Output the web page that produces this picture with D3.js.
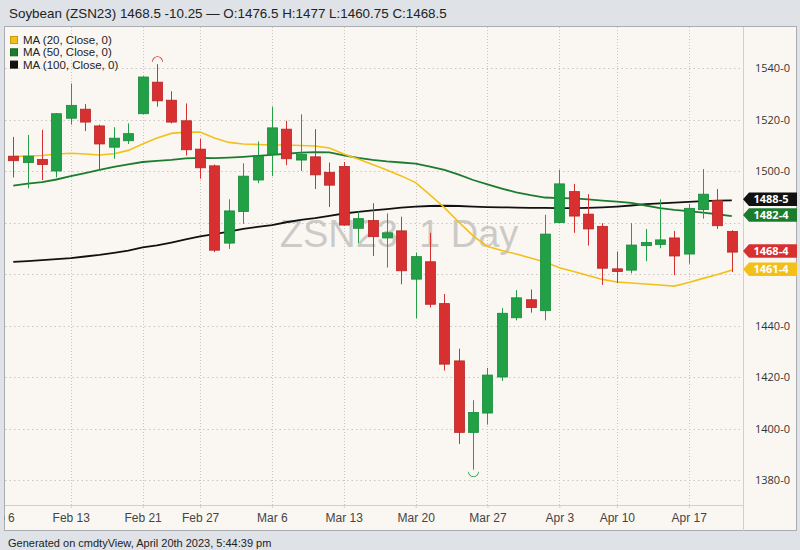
<!DOCTYPE html>
<html><head><meta charset="utf-8">
<script src="https://cdn.jsdelivr.net/npm/d3@7/dist/d3.min.js"></script>
<style>
html,body{margin:0;padding:0;background:#dfe2e6;}
svg{display:block;}
</style></head>
<body>
<svg id="chart" width="800" height="550"></svg>
<script>
// ---- data ----
const days = ["Feb 6","Feb 7","Feb 8","Feb 9","Feb 10","Feb 13","Feb 14","Feb 15","Feb 16","Feb 17",
  "Feb 21","Feb 22","Feb 23","Feb 24","Feb 27","Feb 28","Mar 1","Mar 2","Mar 3","Mar 6","Mar 7","Mar 8",
  "Mar 9","Mar 10","Mar 13","Mar 14","Mar 15","Mar 16","Mar 17","Mar 20","Mar 21","Mar 22","Mar 23",
  "Mar 24","Mar 27","Mar 28","Mar 29","Mar 30","Mar 31","Apr 3","Apr 4","Apr 5","Apr 6","Apr 10",
  "Apr 11","Apr 12","Apr 13","Apr 14","Apr 17","Apr 18","Apr 19","Apr 20"];
const open  = [1505.75,1503.25,1504.5,1500,1520.5,1524,1517.5,1509.25,1511.75,1522.25,1534.5,1527.5,1519.5,1508.5,1502,1472,1484.25,1496.5,1506.5,1516.25,1504.25,1505.5,1499.5,1501.75,1477.75,1480.75,1474,1476.75,1458,1464.75,1448.5,1426.25,1398.5,1406,1420,1443,1450,1445.75,1480,1492,1483.25,1478.5,1462,1461.5,1471,1471.5,1474,1467.75,1485,1488.5,1476.5];
const high  = [1513.25,1514,1516,1522.5,1534,1526,1518,1517,1518.5,1536.75,1541.5,1531,1526.25,1512.5,1502.5,1489,1503,1511.5,1525,1519.5,1522,1516.25,1503.25,1503.5,1484.25,1487.5,1483.5,1482.25,1468.25,1476,1452.25,1431,1411,1423.5,1446.75,1453.75,1454,1483,1500.5,1495,1491,1479.75,1468.75,1479.75,1477.5,1489,1476.75,1487.25,1500.75,1493,1477];
const low   = [1497.5,1493.25,1496.5,1497.5,1518,1515.5,1500.5,1504.75,1510.5,1522,1525,1518.5,1506,1497,1468.5,1469.75,1479.5,1495.25,1498,1502.25,1500,1493,1486,1478.75,1472,1467,1462.5,1456,1442.75,1447,1422.5,1394,1384,1401.5,1418.5,1442,1445,1442,1479.75,1476,1471,1455.75,1456.5,1460.25,1465,1470,1459.5,1464,1481.5,1477.5,1460.75];
const close = [1504,1505.75,1502.5,1522.25,1525.5,1519,1510.5,1512.75,1514.5,1536.5,1527.25,1519,1508.25,1501.25,1469.25,1484.5,1498,1505.75,1516.75,1504.75,1506.5,1498.5,1494.5,1479,1481.5,1474.5,1476,1461.25,1466.75,1448.25,1425,1398.5,1406.25,1420.75,1444.75,1450.75,1447,1475.5,1495,1482.5,1477.5,1462.25,1461,1471.25,1472.25,1473.25,1467,1485.5,1491,1478.75,1468.5];
const ma20  = [1505.6,1505.8,1506.0,1506.6,1506.9,1506.6,1506.2,1506.7,1508.0,1510.5,1512.8,1514.6,1515.1,1515.1,1512.8,1511.1,1510.5,1510.3,1510.1,1510.1,1509.9,1509.7,1508.9,1506.6,1504.7,1502.5,1500.4,1498.1,1495.5,1490.7,1485.8,1480.2,1474.8,1470.7,1469.1,1467.8,1466.2,1464.7,1462.4,1461.0,1459.4,1457.9,1456.9,1456.5,1456.1,1455.7,1455.3,1456.7,1458.3,1459.8,1461.5];
const ma50  = [1494.3,1495.1,1495.7,1496.7,1498.0,1499.2,1500.4,1501.6,1502.6,1503.5,1503.9,1504.3,1504.9,1505.1,1505.0,1505.2,1505.5,1505.9,1506.3,1506.7,1507.1,1507.3,1507.2,1506.1,1505.1,1504.3,1503.7,1503.3,1502.9,1501.7,1500.4,1498.6,1496.5,1494.8,1493.2,1491.7,1490.6,1489.7,1489.5,1489.4,1489.0,1488.5,1488.1,1487.6,1486.6,1485.6,1484.9,1484.4,1483.8,1483.2,1482.5];
const ma100 = [1464.7,1465.0,1465.4,1465.8,1466.2,1466.8,1467.4,1468.2,1469.1,1470.3,1471.1,1472.2,1473.4,1474.6,1475.5,1476.5,1477.5,1478.3,1479.0,1480.1,1481.0,1481.7,1482.6,1483.5,1484.1,1484.7,1485.2,1485.8,1486.2,1486.4,1486.5,1486.4,1486.2,1486.0,1485.9,1485.8,1485.7,1485.7,1485.6,1485.6,1485.7,1485.9,1486.2,1486.6,1487.1,1487.4,1487.7,1488.0,1488.3,1488.5,1488.625];
const tickLabels = ["Feb 6","Feb 13","Feb 21","Feb 27","Mar 6","Mar 13","Mar 20","Mar 27","Apr 3","Apr 10","Apr 17"];
const priceTicks = [1380,1400,1420,1440,1460,1480,1500,1520,1540];
const maNames = ["MA (20, Close, 0)","MA (50, Close, 0)","MA (100, Close, 0)"];
const titleText = "Soybean (ZSN23) 1468.5 -10.25 \u2014 O:1476.5 H:1477 L:1460.75 C:1468.5";
const watermark = "ZSN23, 1 Day";
const footerText = "Generated on cmdtyView, April 20th 2023, 5:44:39 pm";

// ---- layout ----
const svg = d3.select("#chart");
const P = {left:5, right:743, top:27, bottom:505};
const panel = {x:4, y:26, w:793, h:505};
const C = {green:"#21a046", greenEdge:"#178a3a", red:"#d83030", redEdge:"#b62626",
  ma20:"#f3c01a", ma50:"#1c7c2e", ma100:"#111111"};

const x = d3.scaleLinear().domain([0, days.length-1]).range([-1.1, 731.8]);
const y = d3.scaleLinear().domain([1380, 1540]).range([480, 68]);
const xi = i => x(i+1);
const fmt = v => { const w = Math.floor(v + 1e-9); const e = Math.round((v - w) * 8); return w + "-" + e; };

svg.append("rect").attr("width",800).attr("height",550).attr("fill","#dfe2e6");
const clip = svg.append("clipPath").attr("id","pclip").append("rect")
  .attr("x",panel.x).attr("y",panel.y).attr("width",panel.w).attr("height",panel.h);
svg.append("rect").attr("x",panel.x+0.5).attr("y",panel.y+0.5).attr("width",panel.w-1).attr("height",panel.h-1)
  .attr("fill","#faf7f2").attr("stroke","#a9adb2");
svg.append("text").attr("x",9).attr("y",18).attr("font-family","Liberation Sans, Arial, sans-serif")
  .attr("font-size",13.4).attr("fill","#222").text(titleText);
svg.append("text").attr("x",8).attr("y",547).attr("font-family","Liberation Sans Narrow, Arial Narrow, sans-serif")
  .attr("font-size",11).attr("fill","#222").text(footerText);

// grid
const g = svg.append("g");
g.selectAll(".hg").data(priceTicks).join("line")
  .attr("x1",P.left).attr("x2",P.right).attr("y1",d=>Math.round(y(d))+0.5).attr("y2",d=>Math.round(y(d))+0.5)
  .attr("stroke","#c9c6c0").attr("stroke-dasharray","1.5,3");
g.selectAll(".vg").data(tickLabels).join("line")
  .attr("x1",d=>Math.round(x(days.indexOf(d)))+0.5).attr("x2",d=>Math.round(x(days.indexOf(d)))+0.5)
  .attr("y1",P.top).attr("y2",P.bottom)
  .attr("stroke","#c9c6c0").attr("stroke-dasharray","1,2");

svg.append("line").attr("x1",P.right+0.5).attr("x2",P.right+0.5).attr("y1",P.top).attr("y2",panel.y+panel.h)
  .attr("stroke","#cfcfcf");
svg.append("line").attr("x1",P.left).attr("x2",P.right).attr("y1",P.bottom+0.5).attr("y2",P.bottom+0.5)
  .attr("stroke","#cfcfcf");

// watermark
svg.append("text").attr("x",399).attr("y",247).attr("text-anchor","middle")
  .attr("font-family","Liberation Sans, Arial, sans-serif").attr("font-size",38)
  .attr("fill","#bdbbb8").attr("fill-opacity",0.75).text(watermark);

// x axis (clipped to panel, first label runs off the left edge as in the source)
const xa = svg.append("g").attr("clip-path","url(#pclip)").append("g").attr("transform",`translate(0,${P.bottom})`)
  .call(d3.axisBottom(x).tickValues(tickLabels.map(d=>days.indexOf(d))).tickFormat(i=>days[i]).tickSize(3).tickPadding(5));
xa.select(".domain").remove();
xa.selectAll("line").attr("stroke","#cfcfcf");
xa.selectAll("text").attr("font-family","Liberation Sans Narrow, Arial Narrow, sans-serif").attr("font-size",12).attr("fill","#444");

// value tags data
const last = open.length-1;
const tags = [
  {v:ma100[last], col:C.ma100},
  {v:ma50[last], col:C.ma50},
  {v:close[last], col:C.red},
  {v:ma20[last], col:C.ma20}
];
const th = 13.5;
const tagY = tags.map(t => y(t.v) - 1);

// y axis: labels hidden where a value tag sits on top of them
const ya = svg.append("g").attr("transform",`translate(${P.right},0)`)
  .call(d3.axisRight(y).tickValues(priceTicks.filter(p => tagY.every(ty => Math.abs(ty - y(p)) > 9)))
    .tickFormat(fmt).tickSize(0).tickPadding(12));
ya.select(".domain").remove();
ya.selectAll("text").attr("font-family","Open Sans, sans-serif").attr("font-size",11).attr("fill","#333");

// MA lines
[[ma100,C.ma100,1.8],[ma50,C.ma50,1.8],[ma20,C.ma20,1.6]].forEach(([arr,col,w])=>{
  svg.append("path").datum(arr).attr("fill","none").attr("stroke",col).attr("stroke-width",w)
    .attr("d", d3.line().x((d,i)=>xi(i)).y(d=>y(d)));
});

// candles
const cg = svg.append("g");
const idx = d3.range(open.length);
const up = i => close[i] >= open[i];
cg.selectAll(".wick").data(idx).join("line")
  .attr("x1",i=>Math.round(xi(i))+0.5).attr("x2",i=>Math.round(xi(i))+0.5)
  .attr("y1",i=>y(high[i])).attr("y2",i=>y(low[i]))
  .attr("stroke",i=>up(i)?C.green:C.red).attr("stroke-width",1);
cg.selectAll(".body").data(idx).join("rect")
  .attr("x",i=>Math.round(xi(i))-4.5).attr("width",10)
  .attr("y",i=>y(Math.max(open[i],close[i])))
  .attr("height",i=>Math.max(1, Math.abs(y(open[i])-y(close[i]))))
  .attr("fill",i=>up(i)?C.green:C.red).attr("stroke",i=>up(i)?C.greenEdge:C.redEdge).attr("stroke-width",0.8);

// high / low markers
const hi = d3.maxIndex(high), lo = d3.minIndex(low);
svg.append("path").attr("transform",`translate(${Math.round(xi(hi))+0.5},${y(high[hi])-2.5})`)
  .attr("d", d3.arc()({innerRadius:4.6,outerRadius:5.4,startAngle:-Math.PI/2,endAngle:Math.PI/2}))
  .attr("fill",C.red);
svg.append("path").attr("transform",`translate(${Math.round(xi(lo))+0.5},${y(low[lo])+2})`)
  .attr("d", d3.arc()({innerRadius:4.6,outerRadius:5.4,startAngle:Math.PI/2,endAngle:Math.PI*1.5}))
  .attr("fill",C.green);

// legend
const lg = svg.append("g");
maNames.forEach((n,k)=>{
  const col = [C.ma20, C.ma50, C.ma100][k];
  lg.append("rect").attr("x",10.5).attr("y",36.5+k*12.3).attr("width",7).attr("height",7)
    .attr("fill",col).attr("stroke",d3.color(col).darker(0.6));
  lg.append("text").attr("x",23).attr("y",44+k*12.3).attr("font-family","Liberation Sans, Arial, sans-serif")
    .attr("font-size",11.5).attr("fill","#222").text(n);
});

// value tags
tags.forEach((t,k)=>{
  const yc = tagY[k];
  svg.append("path")
    .attr("d",`M${P.right},${yc} L${P.right+6},${yc-th/2} L${panel.x+panel.w},${yc-th/2} L${panel.x+panel.w},${yc+th/2} L${P.right+6},${yc+th/2} Z`)
    .attr("fill",t.col);
  svg.append("text").attr("x",771).attr("y",yc+4).attr("text-anchor","middle")
    .attr("font-family","Open Sans, sans-serif").attr("font-weight","bold").attr("font-size",11)
    .attr("fill","#fff").text(fmt(t.v));
});
</script>
</body></html>
